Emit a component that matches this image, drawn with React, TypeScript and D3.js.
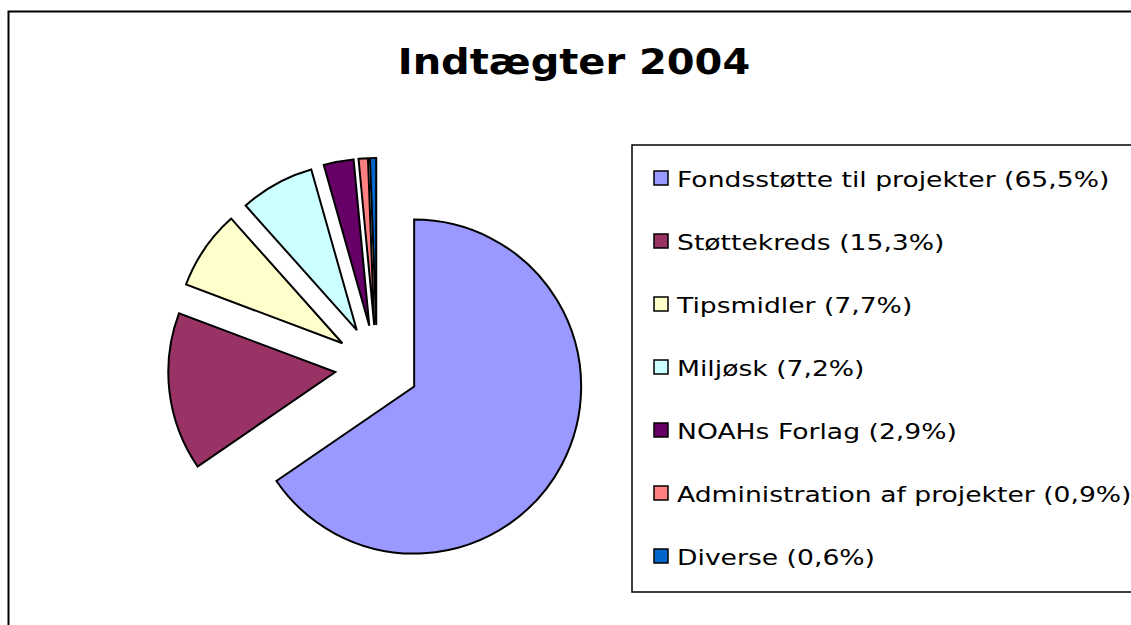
import React from "react";
import * as d3 from "d3";

const categories = [
  "Fondsstøtte til projekter",
  "Støttekreds",
  "Tipsmidler",
  "Miljøsk",
  "NOAHs Forlag",
  "Administration af projekter",
  "Diverse",
];
const values = [65.5, 15.3, 7.7, 7.2, 2.9, 0.9, 0.6];
const valueLabels = ["65,5%", "15,3%", "7,7%", "7,2%", "2,9%", "0,9%", "0,6%"];
const colors = ["#9999FF", "#993366", "#FFFFCC", "#CCFFFF", "#660066", "#FF8080", "#0066CC"];
const title = "Indtægter 2004";

const W = 1131;
const H = 625;

export default function App() {
  const cx = 377;
  const cy = 367;
  const r = 167;
  const explode = 42;
  const data = categories.map((c, i) => ({ name: c, value: values[i], label: valueLabels[i], color: colors[i] }));
  const pie = d3.pie<any>().value((d: any) => d.value).sort(null);
  const arcs = pie(data);
  const arcGen = d3.arc<any>().innerRadius(0).outerRadius(r);

  const legendX = 632;
  const legendY = 145;
  const rowH = 63;
  const firstBaseline = 187;
  const textX = 677;
  const titleX = 574;

  return (
    <svg
      width={W}
      height={H}
      style={{ position: "absolute", left: 0, top: 0, background: "#fff" }}
      fontFamily="'DejaVu Sans', Verdana, sans-serif"
    >
      <rect x={8.5} y={11.5} width={W + 20} height={H + 20} fill="#fff" stroke="#000" strokeWidth={2} />
      <g transform={`translate(${titleX},74) scale(1.11,1)`}>
        <text x={0} y={0} textAnchor="middle" fontSize={36} fontWeight="bold" fill="#000">
          {title}
        </text>
      </g>
      <g>
        {arcs.map((a, i) => {
          const mid = (a.startAngle + a.endAngle) / 2;
          const dx = Math.sin(mid) * explode;
          const dy = -Math.cos(mid) * explode;
          return (
            <path
              key={i}
              d={arcGen(a) as string}
              transform={`translate(${cx + dx},${cy + dy})`}
              fill={a.data.color}
              stroke="#000"
              strokeWidth={2}
              strokeLinejoin="miter"
            />
          );
        })}
      </g>
      <rect x={legendX} y={legendY} width={W} height={592 - legendY} fill="#fff" stroke="#000" strokeWidth={1.5} />
      {data.map((d, i) => {
        const base = firstBaseline + i * rowH;
        return (
          <g key={i}>
            <rect x={654} y={base - 16} width={14} height={14} fill={d.color} stroke="#000" strokeWidth={1.5} />
            <g transform={`translate(${textX},${base}) scale(1.21,1)`}>
              <text x={0} y={0} fontSize={22} fill="#000">
                {`${d.name} (${d.label})`}
              </text>
            </g>
          </g>
        );
      })}
    </svg>
  );
}
